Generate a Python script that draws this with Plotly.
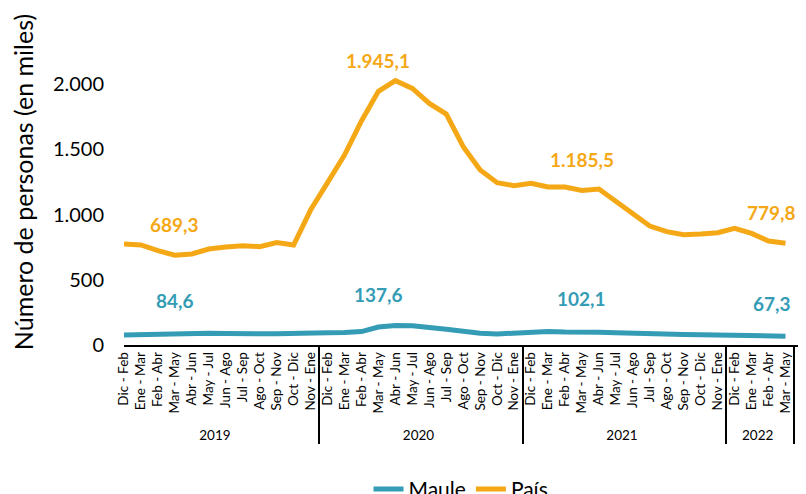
import plotly.graph_objects as go

years = ["2019"] * 12 + ["2020"] * 12 + ["2021"] * 12 + ["2022"] * 4
months_cycle = ["Dic - Feb", "Ene - Mar", "Feb - Abr", "Mar - May", "Abr - Jun", "May - Jul",
                "Jun - Ago", "Jul - Sep", "Ago - Oct", "Sep - Nov", "Oct - Dic", "Nov - Ene"]
months = months_cycle * 3 + months_cycle[:4]

pais = [775, 767, 723, 689.3, 698, 736, 751, 762, 754, 785, 767, 1035,
        1245, 1457, 1718, 1945.1, 2027, 1968, 1853, 1771, 1521, 1342, 1245, 1222,
        1240, 1212, 1212, 1185.5, 1196, 1099, 1005, 912, 869, 846, 851, 861,
        895, 856, 797, 779.8]
maule = [76, 80, 78, 84.6, 88, 90, 88, 84, 86, 87, 86, 90,
         93, 96, 103, 137.6, 150, 148, 130, 120, 105, 90, 85, 93,
         102, 104, 100, 102.1, 98, 93, 88, 82, 84, 80, 78, 74,
         76, 73, 71, 67.3]

label_idx = [3, 15, 27, 39]
label_pais = ["689,3", "1.945,1", "1.185,5", "779,8"]
label_maule = ["84,6", "137,6", "102,1", "67,3"]

C_MAULE = "#349CB5"
C_PAIS = "#F5A816"
FONT = "Lato"

fig = go.Figure()
fig.add_trace(go.Scatter(x=[years, months], y=maule, mode="lines", name="Maule",
                         line=dict(color=C_MAULE, width=5)))
fig.add_trace(go.Scatter(x=[years, months], y=pais, mode="lines", name="País",
                         line=dict(color=C_PAIS, width=5)))

for k, i in enumerate(label_idx):
    xs = -14 if i == 39 else 0
    fig.add_annotation(x=i, y=pais[i], text="<b>%s</b>" % label_pais[k], showarrow=False,
                       yshift=31, xshift=xs, font=dict(color=C_PAIS, size=19, family=FONT))
    fig.add_annotation(x=i, y=maule[i], text="<b>%s</b>" % label_maule[k], showarrow=False,
                       yshift=33, xshift=xs, font=dict(color=C_MAULE, size=19, family=FONT))

fig.update_layout(
    width=798, height=486,
    margin=dict(l=116, r=8, t=11, b=149, autoexpand=False),
    paper_bgcolor="white", plot_bgcolor="white",
    separators=",.",
    font=dict(family=FONT, color="black"),
    showlegend=True,
    legend=dict(orientation="h", x=0.5, xanchor="center", y=-0.38, yanchor="top",
                font=dict(size=21, family=FONT)),
)
fig.update_yaxes(range=[0, 2500], tickvals=[0, 500, 1000, 1500, 2000, 2500],
                 tickformat=",d", showgrid=False, zeroline=False, showline=False,
                 tickfont=dict(size=20, family=FONT), ticklabelstandoff=19, automargin=False,
                 title=dict(text="Número de personas (en miles)", font=dict(size=25, family=FONT),
                            standoff=14))
fig.update_xaxes(type="multicategory", tickangle=-90, showline=True, linecolor="black",
                 linewidth=1.5, showdividers=True, dividercolor="black", dividerwidth=1.5,
                 showgrid=False, tickfont=dict(size=13.5, family=FONT),
                 ticks="outside", ticklen=4, tickcolor="rgba(0,0,0,0)", automargin=False)

fig.write_html("out.html")
